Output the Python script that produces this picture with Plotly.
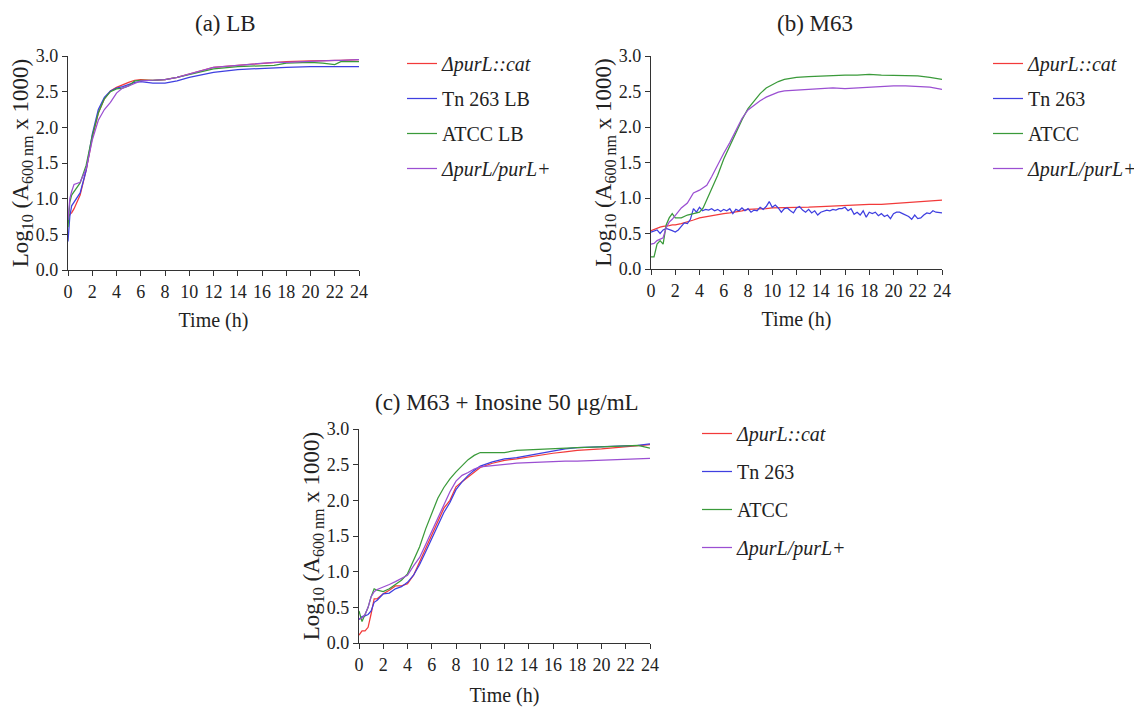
import plotly.graph_objects as go

# page body has an 8px margin in the browser, so the canvas is slightly smaller
OFF = 8
W, H = 1142 - OFF, 707 - OFF

# ---------------- Data ----------------
# Panel (a) LB
t_a = [0, 0.15, 0.3, 0.5, 1, 1.5, 2, 2.5, 3, 3.5, 4, 4.5, 5, 5.5, 6, 7, 8, 9, 10, 11, 12, 14, 16, 17, 18, 20, 21, 22, 22.5, 24]
a_red = [0.72, 0.78, 0.80, 0.86, 1.05, 1.40, 1.85, 2.20, 2.40, 2.51, 2.56, 2.60, 2.63, 2.66, 2.67, 2.66, 2.67, 2.70, 2.75, 2.80, 2.84, 2.87, 2.90, 2.91, 2.92, 2.93, 2.93, 2.94, 2.94, 2.95]
a_blue = [0.40, 0.75, 0.90, 0.95, 1.08, 1.40, 1.90, 2.25, 2.42, 2.51, 2.55, 2.57, 2.60, 2.63, 2.64, 2.62, 2.62, 2.65, 2.70, 2.74, 2.77, 2.81, 2.83, 2.84, 2.84, 2.85, 2.85, 2.85, 2.85, 2.85]
a_green = [0.60, 0.95, 1.05, 1.10, 1.22, 1.47, 1.88, 2.20, 2.40, 2.50, 2.54, 2.55, 2.58, 2.65, 2.66, 2.66, 2.67, 2.70, 2.74, 2.78, 2.82, 2.85, 2.86, 2.87, 2.90, 2.91, 2.90, 2.88, 2.92, 2.92]
a_purple = [0.70, 1.00, 1.10, 1.20, 1.23, 1.42, 1.82, 2.10, 2.25, 2.35, 2.48, 2.55, 2.58, 2.62, 2.65, 2.66, 2.67, 2.70, 2.75, 2.80, 2.84, 2.87, 2.90, 2.91, 2.91, 2.93, 2.93, 2.94, 2.94, 2.95]

# Panel (b) M63
t_b = [0, 0.25, 0.5, 0.75, 1, 1.25, 1.5, 1.75, 2, 2.5, 3, 3.5, 4, 4.3, 4.6, 5, 5.5, 6, 6.5, 7, 7.5, 8, 8.5, 9, 9.5, 10, 10.5, 11, 12, 13, 14, 15, 16, 17, 18, 19, 20, 21, 22, 23, 24]
b_red = [0.54, 0.56, 0.57, 0.59, 0.60, 0.60, 0.61, 0.62, 0.62, 0.64, 0.66, 0.69, 0.72, 0.73, 0.74, 0.75, 0.77, 0.78, 0.79, 0.80, 0.82, 0.84, 0.84, 0.85, 0.85, 0.86, 0.86, 0.86, 0.87, 0.87, 0.88, 0.89, 0.90, 0.90, 0.91, 0.91, 0.92, 0.93, 0.94, 0.95, 0.97]
b_green = [0.17, 0.17, 0.35, 0.40, 0.35, 0.62, 0.72, 0.78, 0.72, 0.72, 0.76, 0.78, 0.80, 0.86, 0.98, 1.12, 1.32, 1.55, 1.74, 1.92, 2.10, 2.26, 2.37, 2.47, 2.55, 2.60, 2.64, 2.67, 2.70, 2.71, 2.72, 2.72, 2.73, 2.73, 2.74, 2.73, 2.73, 2.72, 2.72, 2.70, 2.67]
b_purple = [0.35, 0.36, 0.40, 0.42, 0.44, 0.58, 0.66, 0.70, 0.75, 0.86, 0.93, 1.07, 1.11, 1.14, 1.18, 1.30, 1.47, 1.63, 1.78, 1.96, 2.12, 2.24, 2.31, 2.37, 2.42, 2.46, 2.49, 2.51, 2.52, 2.53, 2.53, 2.55, 2.54, 2.55, 2.57, 2.58, 2.58, 2.58, 2.57, 2.56, 2.53]
t_b_blue = [i * 0.25 for i in range(97)]
b_blue = [0.52, 0.53, 0.55, 0.50, 0.55, 0.57, 0.56, 0.54, 0.52, 0.55, 0.60, 0.65, 0.64, 0.70, 0.85, 0.80,
          0.87, 0.82, 0.84, 0.83, 0.85, 0.82, 0.84, 0.81, 0.84, 0.82, 0.85, 0.78, 0.84, 0.82, 0.86, 0.82,
          0.85, 0.80, 0.83, 0.82, 0.87, 0.84, 0.88, 0.95, 0.87, 0.90, 0.86, 0.80, 0.85, 0.86, 0.82, 0.79,
          0.86, 0.88, 0.83, 0.80, 0.84, 0.79, 0.82, 0.76, 0.80, 0.82, 0.83, 0.82, 0.84, 0.83, 0.85, 0.85,
          0.87, 0.82, 0.85, 0.77, 0.80, 0.76, 0.82, 0.73, 0.80, 0.78, 0.80, 0.75, 0.78, 0.74, 0.76, 0.71,
          0.78, 0.80, 0.80, 0.78, 0.76, 0.74, 0.70, 0.76, 0.71, 0.72, 0.76, 0.79, 0.78, 0.82, 0.80, 0.79,
          0.79]

# Panel (c) M63 + Inosine
t_c = [0, 0.25, 0.5, 0.75, 1, 1.25, 1.5, 2, 2.5, 3, 3.5, 4, 4.5, 5, 5.5, 6, 6.5, 7, 7.5, 8, 8.5, 9, 9.5, 10, 11, 12, 13, 14, 15, 16, 17, 18, 20, 22, 23, 24]
c_red = [0.11, 0.17, 0.17, 0.22, 0.41, 0.62, 0.62, 0.69, 0.74, 0.80, 0.80, 0.83, 0.95, 1.14, 1.33, 1.51, 1.70, 1.89, 2.00, 2.19, 2.26, 2.33, 2.40, 2.46, 2.52, 2.56, 2.58, 2.61, 2.63, 2.66, 2.68, 2.70, 2.72, 2.75, 2.76, 2.78]
c_blue = [0.33, 0.37, 0.38, 0.40, 0.45, 0.57, 0.60, 0.69, 0.70, 0.76, 0.79, 0.85, 0.95, 1.10, 1.28, 1.47, 1.65, 1.83, 1.97, 2.15, 2.26, 2.35, 2.42, 2.48, 2.54, 2.58, 2.60, 2.63, 2.66, 2.70, 2.72, 2.74, 2.75, 2.76, 2.77, 2.79]
c_green = [0.45, 0.30, 0.40, 0.50, 0.65, 0.76, 0.74, 0.72, 0.76, 0.82, 0.88, 0.97, 1.15, 1.35, 1.60, 1.82, 2.03, 2.18, 2.30, 2.40, 2.49, 2.57, 2.63, 2.67, 2.67, 2.67, 2.70, 2.71, 2.72, 2.73, 2.74, 2.74, 2.75, 2.76, 2.77, 2.73]
c_purple = [0.33, 0.35, 0.40, 0.50, 0.65, 0.72, 0.75, 0.78, 0.82, 0.86, 0.90, 0.95, 1.08, 1.20, 1.38, 1.57, 1.76, 1.95, 2.12, 2.27, 2.35, 2.39, 2.44, 2.47, 2.49, 2.50, 2.52, 2.53, 2.54, 2.55, 2.55, 2.55, 2.56, 2.57, 2.58, 2.59]

names_a = ["<i>ΔpurL::cat</i>", "Tn 263 LB", "ATCC LB", "<i>ΔpurL/purL+</i>"]
names_bc = ["<i>ΔpurL::cat</i>", "Tn 263", "ATCC", "<i>ΔpurL/purL+</i>"]
colors = ["#f23a3a", "#3f3fe0", "#3a9a3a", "#9b4fd2"]

FONT = "Liberation Serif"
TXT = "#222222"

fig = go.Figure()

panels = [
    ("x", "y", "legend", names_a, [(t_a, a_red), (t_a, a_blue), (t_a, a_green), (t_a, a_purple)]),
    ("x2", "y2", "legend2", names_bc, [(t_b, b_red), (t_b_blue, b_blue), (t_b, b_green), (t_b, b_purple)]),
    ("x3", "y3", "legend3", names_bc, [(t_c, c_red), (t_c, c_blue), (t_c, c_green), (t_c, c_purple)]),
]
for xa, ya, lg, names, series in panels:
    for i, (tt, vv) in enumerate(series):
        fig.add_trace(go.Scatter(x=tt, y=vv, mode="lines", name=names[i],
                                 line=dict(color=colors[i], width=1.25),
                                 xaxis=xa, yaxis=ya, legend=lg,
                                 legendgroup=f"{lg}_{i}"))


def px_x(p):
    return (p - OFF) / W


def px_y(p):
    return 1 - (p - OFF) / H


axis_common = dict(showline=True, linecolor="#333333", linewidth=1.2, ticks="outside",
                   ticklen=5, tickcolor="#333333", tickwidth=1.2, showgrid=False, zeroline=False,
                   automargin=False,
                   tickfont=dict(family=FONT, size=18, color=TXT))

ytitle = "Log<sub>10</sub> (A<sub>600 nm</sub> x 1000)"

doms = {
    "a": ([68, 359], [56, 270]),
    "b": ([651, 942], [56, 269]),
    "c": ([359, 650], [429, 643]),
}

layout = dict(width=W, height=H, margin=dict(l=0, r=0, t=0, b=0, autoexpand=False),
              paper_bgcolor="white", plot_bgcolor="white", showlegend=True,
              font=dict(family=FONT, color=TXT))

for key, suffix in (("a", ""), ("b", "2"), ("c", "3")):
    (x0, x1), (y0, y1) = doms[key]
    xstand = 15 if key == "c" else 12
    layout["xaxis" + suffix] = dict(axis_common, domain=[px_x(x0), px_x(x1)], range=[0, 24],
                                    tickmode="linear", tick0=0, dtick=2, anchor="y" + suffix,
                                    title=dict(text="Time (h)", font=dict(family=FONT, size=20, color=TXT), standoff=xstand))
    layout["yaxis" + suffix] = dict(axis_common, domain=[px_y(y1), px_y(y0)], range=[0, 3],
                                    tickmode="linear", tick0=0, dtick=0.5, tickformat=".1f", anchor="x" + suffix,
                                    title=dict(text=ytitle, font=dict(family=FONT, size=23, color=TXT), standoff=0))

leg_common = dict(bgcolor="rgba(0,0,0,0)", font=dict(family=FONT, size=20, color=TXT),
                  xanchor="left", yanchor="top", traceorder="grouped", tracegroupgap=6,
                  itemclick=False)
layout["legend"] = dict(leg_common, x=px_x(441 - 39), y=px_y(44))
layout["legend2"] = dict(leg_common, x=px_x(1027 - 39), y=px_y(44))
layout["legend3"] = dict(leg_common, x=px_x(736 - 39), y=px_y(414), tracegroupgap=9)

fig.update_layout(**layout)

titles = [("(a) LB", 225, 24), ("(b) M63", 815, 24), ("(c) M63 + Inosine 50 μg/mL", 507, 403)]
for txt, cx, cy in titles:
    fig.add_annotation(text=txt, x=px_x(cx), y=px_y(cy), xref="paper", yref="paper",
                       showarrow=False, xanchor="center", yanchor="middle",
                       font=dict(family=FONT, size=23, color=TXT))

fig.write_html("out.html")
